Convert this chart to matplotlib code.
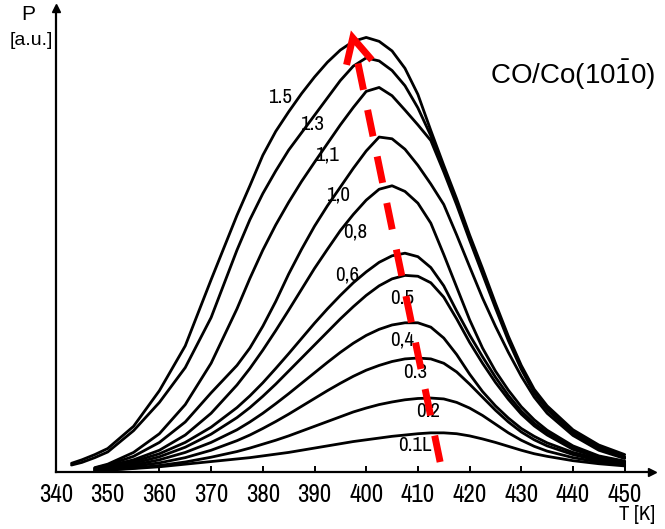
import matplotlib
matplotlib.use("Agg")
import matplotlib.pyplot as plt
from matplotlib import font_manager
from matplotlib.font_manager import FontProperties

# Temperature grids (K)
t_narrow = [347.5, 350, 355, 360, 365, 370, 375,
            377.5, 380, 382.5, 385, 387.5, 390, 392.5, 395, 397.5, 400, 402.5, 405,
            407.5, 410, 412.5, 415, 417.5, 420, 422.5, 425, 427.5, 430, 432.5,
            435, 440, 445, 450]
t_wide = [343, 345] + t_narrow

# Desorption rate P (a.u.) for each CO exposure
p_15 = [0.20, 0.28, 0.40, 0.54, 1.05, 1.87, 2.90, 4.42, 5.90,
        6.58, 7.28, 7.83, 8.28, 8.70, 9.08, 9.42, 9.70, 9.90, 9.99,
        9.90, 9.68, 9.28, 8.68, 7.85, 7.05, 6.28, 5.45, 4.68, 3.88,
        3.12, 2.45, 1.90, 1.52, 0.97, 0.62, 0.40]
p_13 = [0.16, 0.22, 0.33, 0.46, 0.95, 1.60, 2.40, 3.55, 5.10,
        5.80, 6.40, 6.92, 7.40, 7.80, 8.20, 8.60, 9.00, 9.33, 9.52,
        9.45, 9.23, 8.88, 8.37, 7.73, 6.96, 6.20, 5.38, 4.60, 3.82,
        3.07, 2.40, 1.85, 1.47, 0.93, 0.58, 0.35]
p_11 = [0.10, 0.18, 0.45, 0.88, 1.55, 2.50, 3.75,
        4.45, 5.10, 5.68, 6.20, 6.68, 7.12, 7.55, 7.98, 8.38, 8.75, 8.84, 8.65,
        8.32, 7.98, 7.62, 6.90, 6.14, 5.33, 4.55, 3.77, 3.02, 2.36, 1.81,
        1.43, 0.89, 0.55, 0.33]
p_10 = [0.09, 0.16, 0.36, 0.68, 1.15, 1.82, 2.45,
        2.85, 3.35, 3.92, 4.55, 5.12, 5.65, 6.12, 6.55, 6.98, 7.38, 7.70, 7.66,
        7.42, 7.05, 6.62, 6.15, 5.45, 4.72, 4.00, 3.35, 2.75, 2.20, 1.72,
        1.35, 0.84, 0.50, 0.31]
p_08 = [0.08, 0.14, 0.28, 0.50, 0.85, 1.35, 2.00,
        2.38, 2.80, 3.25, 3.72, 4.20, 4.68, 5.12, 5.55, 5.92, 6.25, 6.50, 6.58,
        6.45, 6.18, 5.72, 5.00, 4.25, 3.50, 2.85, 2.32, 1.88, 1.50, 1.20,
        0.96, 0.60, 0.37, 0.25]
p_06 = [0.07, 0.12, 0.24, 0.42, 0.68, 1.03, 1.48,
        1.75, 2.05, 2.38, 2.72, 3.07, 3.42, 3.75, 4.06, 4.35, 4.60, 4.82, 4.97,
        5.03, 4.95, 4.70, 4.28, 3.70, 3.15, 2.65, 2.18, 1.76, 1.40, 1.12,
        0.90, 0.56, 0.35, 0.24]
p_05 = [0.06, 0.10, 0.20, 0.35, 0.57, 0.87, 1.25,
        1.48, 1.74, 2.02, 2.32, 2.62, 2.92, 3.22, 3.52, 3.80, 4.06, 4.28, 4.44,
        4.52, 4.50, 4.35, 4.02, 3.52, 2.98, 2.50, 2.06, 1.67, 1.33, 1.06,
        0.85, 0.52, 0.33, 0.22]
p_04 = [0.05, 0.08, 0.16, 0.28, 0.45, 0.68, 0.97,
        1.15, 1.35, 1.57, 1.80, 2.04, 2.28, 2.52, 2.75, 2.96, 3.14, 3.28, 3.38,
        3.43, 3.43, 3.33, 3.08, 2.70, 2.25, 1.85, 1.52, 1.24, 1.00, 0.82,
        0.67, 0.45, 0.30, 0.20]
p_03 = [0.04, 0.07, 0.13, 0.21, 0.33, 0.50, 0.72,
        0.85, 1.00, 1.16, 1.33, 1.51, 1.69, 1.87, 2.04, 2.20, 2.34, 2.45, 2.54,
        2.60, 2.62, 2.60, 2.50, 2.30, 2.02, 1.72, 1.42, 1.15, 0.92, 0.74,
        0.60, 0.40, 0.26, 0.18]
p_02 = [0.03, 0.05, 0.09, 0.15, 0.23, 0.34, 0.47,
        0.55, 0.64, 0.73, 0.83, 0.94, 1.05, 1.16, 1.27, 1.38, 1.47, 1.55, 1.61,
        1.66, 1.69, 1.70, 1.68, 1.60, 1.47, 1.30, 1.10, 0.90, 0.73, 0.59,
        0.48, 0.33, 0.23, 0.16]
p_01 = [0.02, 0.04, 0.08, 0.12, 0.18, 0.24, 0.30,
        0.33, 0.37, 0.41, 0.45, 0.50, 0.55, 0.60, 0.65, 0.70, 0.74, 0.78, 0.82,
        0.85, 0.88, 0.90, 0.90, 0.88, 0.83, 0.76, 0.68, 0.59, 0.50, 0.42,
        0.36, 0.26, 0.19, 0.14]

curve_labels = ["1.5", "1.3", "1,1", "1,0", "0,8", "0,6", "0.5", "0,4", "0.3", "0.2", "0.1L"]
label_t = [383.3, 389.5, 392.4, 394.5, 397.8, 396.3, 406.9, 406.9, 409.4, 412.0, 409.4]
label_p = [8.62, 7.98, 7.29, 6.37, 5.52, 4.53, 4.00, 3.03, 2.28, 1.38, 0.62]

# Peak-shift guide (from low exposure up to the arrow tip at high exposure)
shift_t = [414.3, 397.4]
shift_p = [0.23, 9.98]
head_t = [396.2, 397.4, 401.1]
head_p = [9.36, 9.98, 9.47]

x_ticks = [340, 350, 360, 370, 380, 390, 400, 410, 420, 430, 440, 450]


def pick_narrow_font():
    """Return the font entry of an installed condensed sans face, or None."""
    entries = font_manager.fontManager.ttflist
    def ok(f):
        return f.style == "normal" and f.weight in (400, "normal", "regular")
    for f in entries:
        if f.name == "Liberation Sans Narrow" and ok(f):
            return f
    for f in entries:
        if ("Condensed" in f.name or "Narrow" in f.name) and ok(f) and "Mono" not in f.name \
                and "Serif" not in f.name and "Bold" not in f.name and "Light" not in f.name:
            return f
    for f in entries:
        if str(f.stretch) in ("condensed", "semi-condensed", "extra-condensed") and ok(f) \
                and "Mono" not in f.name and "Serif" not in f.name:
            return f
    return None


text_font = "Liberation Sans"
narrow = pick_narrow_font()
if narrow is not None:
    num_prop = FontProperties(fname=narrow.fname, size=18)
    lab_prop = FontProperties(fname=narrow.fname, size=15)
else:
    num_prop = FontProperties(family=text_font, size=14)
    lab_prop = FontProperties(family=text_font, size=12)

plt.rcParams["font.family"] = [text_font, "DejaVu Sans"]
plt.rcParams["mathtext.fontset"] = "custom"
plt.rcParams["mathtext.rm"] = text_font
plt.rcParams["lines.scale_dashes"] = False

W, H = 665, 529
fig = plt.figure(figsize=(W / 100, H / 100), dpi=100)
x0, y_base, x1, y_top = 56, 472, 652, 8
ax = fig.add_axes([x0 / W, (H - y_base) / H, (x1 - x0) / W, (y_base - y_top) / H])
ax.set_xlim(340, 340 + (x1 - x0) / 5.17)
ax.set_ylim(0, (y_base - y_top) / 43.5)

for s in ("top", "right"):
    ax.spines[s].set_visible(False)
for s in ("left", "bottom"):
    ax.spines[s].set_linewidth(1.6)
ax.plot(1, 0, ">k", transform=ax.transAxes, clip_on=False, markersize=6)
ax.plot(0, 1, "^k", transform=ax.transAxes, clip_on=False, markersize=6)

ax.set_yticks([])
ax.set_xticks(x_ticks)
ax.set_xticklabels([str(t) for t in x_ticks])
for lab in ax.get_xticklabels():
    lab.set_fontproperties(num_prop)
ax.tick_params(axis="x", direction="in", length=4, width=1.4, pad=8)

series = [p_15, p_13, p_11, p_10, p_08, p_06, p_05, p_04, p_03, p_02, p_01]
for p in series:
    t = t_wide if len(p) == len(t_wide) else t_narrow
    ax.plot(t, p, color="black", lw=2.0, solid_joinstyle="round", solid_capstyle="round")

for txt, t, p in zip(curve_labels, label_t, label_p):
    ax.text(t, p, txt, fontproperties=lab_prop, ha="center", va="center")

red = "#ff0000"
ax.plot(shift_t, shift_p, color=red, lw=5, dashes=(19.4, 14.8), dash_capstyle="butt", zorder=5)
ax.plot(head_t, head_p, color=red, lw=5, solid_joinstyle="miter", solid_capstyle="butt", zorder=5)

fig.text(573 / W, 1 - 75 / H, r"CO/Co(10$\mathrm{\bar{1}}$0)", fontsize=20,
         ha="center", va="center")
fig.text(28 / W, 1 - 15 / H, "P", fontsize=15, ha="center", va="center")
fig.text(31 / W, 1 - 40 / H, "[a.u.]", fontsize=14, ha="center", va="center")
fig.text(637 / W, 1 - 515 / H, "T [K]", fontproperties=lab_prop, ha="center", va="center")

fig.savefig("out.png", dpi=100)
